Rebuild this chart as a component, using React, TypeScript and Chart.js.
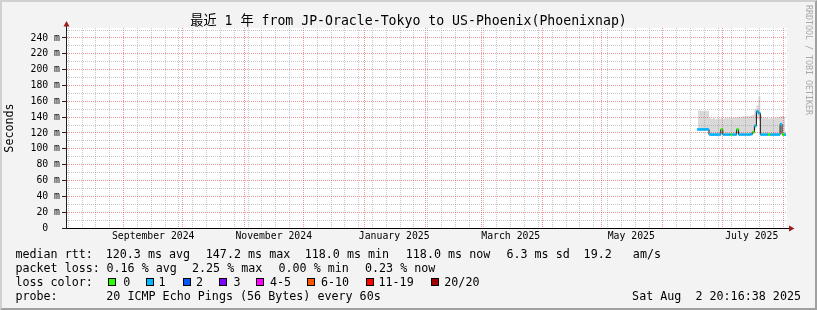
import React, { useEffect, useRef } from "react";
import { Chart, registerables } from "chart.js";

Chart.register(...registerables);

const MONO = "'DejaVu Sans Mono', 'Noto Sans CJK SC', monospace";

// ---------- texts ----------
const titleText = "最近 1 年 from JP-Oracle-Tokyo to US-Phoenix(Phoenixnap)";
const yAxisTitle = "Seconds";
const watermarkText = "RRDTOOL / TOBI OETIKER";

// ---------- time axis ----------
const startUtc = Date.UTC(2024, 7, 2, 20, 16, 38); // graph start (end = +365 days)
const spanDays = 365;
const xLabelTexts = ["September 2024", "November 2024", "January 2025", "March 2025", "May 2025", "July 2025"];
const xLabelDates = [[2024, 8, 16], [2024, 10, 16], [2025, 0, 16], [2025, 2, 16], [2025, 4, 16], [2025, 6, 16]];
const monthStarts = [
  [2024, 8, 1], [2024, 9, 1], [2024, 10, 1], [2024, 11, 1], [2025, 0, 1], [2025, 1, 1],
  [2025, 2, 1], [2025, 3, 1], [2025, 4, 1], [2025, 5, 1], [2025, 6, 1], [2025, 7, 1],
];
const firstWeekLine = [2024, 7, 4]; // Sundays

// ---------- value axis ----------
const yMax = 252.6;
const yGridValues = [0, 10, 20, 30, 40, 50, 60, 70, 80, 90, 100, 110, 120, 130, 140, 150, 160, 170, 180, 190, 200, 210, 220, 230, 240, 250];
const yLabelValues = [0, 20, 40, 60, 80, 100, 120, 140, 160, 180, 200, 220, 240];
const yLabelTexts = ["0  ", "20 m", "40 m", "60 m", "80 m", "100 m", "120 m", "140 m", "160 m", "180 m", "200 m", "220 m", "240 m"];

// ---------- series (x = days since graph start, values in ms) ----------
const sampleDay = [
  320, 321, 322, 323, 324, 325, 326, 327, 328, 329, 330, 331, 332, 333, 334,
  335, 336, 337, 338, 339, 340, 341, 342, 343, 344, 345, 346, 347, 348, 349,
  350, 351, 352, 353, 354, 355, 356, 357, 358, 359, 360, 361, 362, 363, 364,
];
const medianRtt = [
  124.5, 124.5, 124.5, 124.5, 124.5, 124.5, 118.2, 118.0, 118.0, 118.0, 118.0, 118.0, 124.5, 118.0, 118.0,
  118.0, 118.0, 118.0, 118.0, 118.0, 124.5, 118.0, 118.0, 118.0, 118.0, 118.0, 118.0, 118.5, 121.0, 129.0,
  147.2, 145.0, 118.0, 118.0, 118.0, 118.0, 118.0, 118.0, 118.0, 118.0, 118.0, 118.0, 131.0, 118.0, 118.0,
];
const lossClass = [
  1, 1, 1, 1, 1, 1, 1, 1, 1, 1, 1, 1, 0, 1, 1,
  1, 1, 0, 1, 1, 0, 1, 1, 1, 1, 1, 1, 1, 0, 1,
  1, 1, 1, 1, 1, 1, 0, 1, 1, 1, 1, 1, 1, 0, 1,
];
const smokeLow = [
  123.3, 123.3, 123.3, 123.3, 123.3, 123.3, 117.3, 117.3, 117.3, 117.3, 117.3, 117.3, 118.5, 117.3, 117.3,
  117.3, 117.3, 117.3, 117.3, 117.3, 118.5, 117.3, 117.3, 117.3, 117.3, 117.3, 117.3, 117.5, 119.0, 124.0,
  138.0, 136.0, 117.3, 117.3, 117.3, 117.3, 117.3, 117.3, 117.3, 117.3, 117.3, 117.3, 121.0, 117.3, 117.3,
];
const smokeHigh = [
  149, 148, 148, 147.5, 148, 148, 139, 138, 139, 137.5, 138.5, 138, 139, 138, 139,
  138.5, 139.5, 138.5, 139, 140, 139.5, 140.5, 140, 141, 140.5, 141.5, 141, 142, 143, 150,
  155, 166, 142, 139, 138.5, 139, 138, 139, 138.5, 139, 139.5, 140, 141, 141.5, 140,
];

// ---------- legend ----------
const lossLabels = ["0", "1", "2", "3", "4-5", "6-10", "11-19", "20/20"];
const lossColors = ["#26ff00", "#00b8ff", "#0059ff", "#7e00ff", "#ff00ff", "#ff5500", "#ff0000", "#a10000"];
const medianStats = ["120.3 ms avg", "147.2 ms max", "118.0 ms min", "118.0 ms now", "6.3 ms sd", "19.2   am/s"];
const lossStats = ["0.16 % avg", "2.25 % max", "0.00 % min", "0.23 % now"];
const probeText = "20 ICMP Echo Pings (56 Bytes) every 60s";
const dateText = "Sat Aug  2 20:16:38 2025";

// layout-only constants
const DAY = 86400000;
const BAND = 1.7; // half thickness of loss-coloured median band (ms)
const RED = "rgba(222,48,48,0.5)";
const GREY = "rgba(143,143,143,0.5)";
const CLEAR = "rgba(0,0,0,0)";

const medianStatX = [105.7, 205.8, 304.7, 405.8, 506.4, 583.6];
const lossStatX = [106.5, 192, 278.5, 365];
const squareX = [108, 146, 183, 219, 256, 307, 366, 431];
const squareLabelX = [123.2, 158.5, 196, 233.5, 270, 321, 378.5, 444.3];
const rowTop = [247, 261, 275, 289];

const rrdFrame = {
  id: "rrdFrame",
  beforeDraw(chart: any) {
    const { ctx, chartArea: a } = chart;
    ctx.save();
    ctx.fillStyle = "#ffffff";
    ctx.fillRect(a.left, a.top, a.right - a.left, a.bottom - a.top);
    ctx.restore();
  },
  afterDraw(chart: any) {
    const { ctx, chartArea: a } = chart;
    const ax = Math.round(a.left) + 0.5;
    const ay = Math.round(a.bottom) + 0.5;
    ctx.save();
    ctx.lineWidth = 1;
    ctx.strokeStyle = "#202020";
    ctx.beginPath();
    ctx.moveTo(ax, a.top);
    ctx.lineTo(ax, a.top - 3);
    ctx.stroke();
    ctx.strokeStyle = "#000000";
    ctx.beginPath();
    ctx.moveTo(a.right, ay);
    ctx.lineTo(a.right + 3, ay);
    ctx.stroke();
    ctx.fillStyle = "#9b1c1c";
    ctx.beginPath();
    ctx.moveTo(ax - 3, a.top - 1.5);
    ctx.lineTo(ax + 3, a.top - 1.5);
    ctx.lineTo(ax, a.top - 7);
    ctx.closePath();
    ctx.fill();
    ctx.beginPath();
    ctx.moveTo(a.right + 2, ay - 3);
    ctx.lineTo(a.right + 2, ay + 3);
    ctx.lineTo(a.right + 7.5, ay);
    ctx.closePath();
    ctx.fill();
    ctx.restore();
  },
};

export default function App() {
  const ref = useRef<HTMLCanvasElement>(null);

  useEffect(() => {
    const canvas = ref.current;
    if (!canvas) return;
    const dayOf = (y: number, m: number, d: number) => (Date.UTC(y, m, d) - startUtc) / DAY;
    const key = (v: number) => Math.round(v * 1000);
    const tickMap = new Map<number, any>();
    const endUtc = startUtc + spanDays * DAY;
    for (let t = Date.UTC(firstWeekLine[0], firstWeekLine[1], firstWeekLine[2]); t < endUtc; t += 7 * DAY) {
      const v = (t - startUtc) / DAY;
      tickMap.set(key(v), { value: v, kind: "week", text: "" });
    }
    monthStarts.forEach(([y, m, d]) => {
      const v = dayOf(y, m, d);
      tickMap.set(key(v), { value: v, kind: "month", text: "" });
    });
    xLabelDates.forEach(([y, m, d], i) => {
      const v = dayOf(y, m, d);
      const ex = tickMap.get(key(v));
      if (ex) ex.text = xLabelTexts[i];
      else tickMap.set(key(v), { value: v, kind: "label", text: xLabelTexts[i] });
    });
    const xTicks = Array.from(tickMap.values()).sort((a, b) => a.value - b.value);

    const chart = new Chart(canvas, {
      type: "line",
      data: {
        datasets: [
          {
            type: "line",
            label: "smoke-low",
            data: sampleDay.map((d, i) => ({ x: d, y: smokeLow[i] })),
            borderColor: CLEAR,
            borderWidth: 0,
            pointRadius: 0,
            fill: false,
            stepped: "middle",
            order: 4,
          },
          {
            type: "line",
            label: "smoke-high",
            data: sampleDay.map((d, i) => ({ x: d, y: smokeHigh[i] })),
            borderColor: CLEAR,
            borderWidth: 0,
            pointRadius: 0,
            fill: "-1",
            backgroundColor: "#d9d9d9",
            stepped: "middle",
            order: 3,
          },
          {
            type: "line",
            label: "median",
            data: sampleDay.map((d, i) => ({ x: d, y: medianRtt[i] })),
            borderColor: "#141414",
            borderWidth: 1,
            pointRadius: 0,
            fill: false,
            stepped: "middle",
            order: 2,
          },
          {
            type: "bar",
            label: "loss",
            data: sampleDay.map((d, i) => ({ x: d, y: [medianRtt[i] - BAND, medianRtt[i] + BAND] })),
            backgroundColor: lossClass.map((c) => lossColors[c]),
            borderWidth: 0,
            barPercentage: 1,
            categoryPercentage: 1,
            inflateAmount: 0,
            order: 1,
          },
        ] as any,
      },
      options: {
        animation: false,
        responsive: false,
        devicePixelRatio: 1,
        events: [],
        layout: { padding: { left: 0, top: 28, right: 30, bottom: 62 } },
        plugins: {
          legend: { display: false },
          tooltip: { enabled: false },
          title: { display: false },
        },
        scales: {
          x: {
            type: "linear",
            min: 0,
            max: spanDays,
            offset: false,
            afterBuildTicks: (scale: any) => {
              scale.ticks = xTicks.map((t) => ({ ...t }));
            },
            afterFit: (scale: any) => {
              scale.height = 20;
            },
            ticks: {
              autoSkip: false,
              maxRotation: 0,
              minRotation: 0,
              padding: 3,
              color: "#000000",
              font: { family: MONO, size: 9.8, lineHeight: 1.2 },
              callback: (_v: any, i: number, ticks: any[]) => (ticks[i] && ticks[i].text) || "",
            },
            grid: {
              offset: false,
              drawTicks: false,
              z: 1,
              lineWidth: 1,
              color: (ctx: any) => {
                const k = ctx.tick && ctx.tick.kind;
                return k === "month" ? RED : k === "week" ? GREY : CLEAR;
              },
            },
            border: { display: true, color: "#000000", width: 1, dash: [1, 1], z: 2 },
          },
          y: {
            type: "linear",
            min: 0,
            max: yMax,
            afterBuildTicks: (scale: any) => {
              scale.ticks = yGridValues.map((v) => ({ value: v }));
            },
            afterFit: (scale: any) => {
              scale.width = 66;
            },
            ticks: {
              autoSkip: false,
              padding: 2,
              color: "#000000",
              font: { family: MONO, size: 9.8, lineHeight: 1.2 },
              callback: (v: any) => {
                const i = yLabelValues.indexOf(Number(v));
                return i >= 0 ? yLabelTexts[i] : "";
              },
            },
            grid: {
              drawTicks: true,
              tickLength: 4,
              z: 1,
              lineWidth: 1,
              color: (ctx: any) => {
                const v = ctx.tick ? ctx.tick.value : -1;
                if (v === 0) return CLEAR;
                return v % 20 === 0 ? RED : GREY;
              },
              tickColor: (ctx: any) => {
                const v = ctx.tick ? ctx.tick.value : -1;
                return v % 20 === 0 ? "#202020" : CLEAR;
              },
            },
            border: { display: true, color: "#202020", width: 1, dash: [1, 1], z: 2 },
            title: {
              display: true,
              text: yAxisTitle,
              color: "#000000",
              font: { family: MONO, size: 11.7, lineHeight: 1.2 },
              padding: { top: 3, bottom: 0 },
            },
          },
        },
      } as any,
      plugins: [rrdFrame as any],
    });
    return () => chart.destroy();
  }, []);

  const legendBase: React.CSSProperties = {
    position: "absolute",
    fontFamily: MONO,
    fontSize: 11.7,
    lineHeight: "14px",
    whiteSpace: "pre",
    color: "#000000",
  };

  return (
    <div
      style={{
        position: "absolute",
        left: 0,
        top: 0,
        width: 817,
        height: 310,
        background: "#f3f3f3",
        overflow: "hidden",
      }}
    >
      <canvas
        ref={ref}
        width={817}
        height={310}
        style={{ position: "absolute", left: 0, top: 0, width: 817, height: 310 }}
      />
      <div
        style={{
          position: "absolute",
          left: 0,
          top: 13.4,
          width: 817,
          textAlign: "center",
          fontFamily: MONO,
          fontSize: 13.2,
          lineHeight: "16px",
          whiteSpace: "pre",
          color: "#000000",
        }}
      >
        {titleText}
      </div>
      <div
        style={{
          position: "absolute",
          left: 804,
          top: 4.5,
          width: 10,
          writingMode: "vertical-rl",
          fontFamily: MONO,
          fontSize: 8.3,
          lineHeight: "10px",
          whiteSpace: "pre",
          color: "#a8a8a8",
        }}
      >
        {watermarkText}
      </div>

      <span style={{ ...legendBase, left: 15.4, top: rowTop[0] }}>median rtt:</span>
      {medianStats.map((s, i) => (
        <span key={"m" + i} style={{ ...legendBase, left: medianStatX[i], top: rowTop[0] }}>
          {s}
        </span>
      ))}

      <span style={{ ...legendBase, left: 15.4, top: rowTop[1] }}>packet loss:</span>
      {lossStats.map((s, i) => (
        <span key={"l" + i} style={{ ...legendBase, left: lossStatX[i], top: rowTop[1] }}>
          {s}
        </span>
      ))}

      <span style={{ ...legendBase, left: 15.4, top: rowTop[2] }}>loss color:</span>
      {lossLabels.map((s, i) => (
        <React.Fragment key={"c" + i}>
          <div
            style={{
              position: "absolute",
              left: squareX[i],
              top: 278,
              width: 8,
              height: 8,
              boxSizing: "border-box",
              border: "1px solid #000000",
              background: lossColors[i],
            }}
          />
          <span style={{ ...legendBase, left: squareLabelX[i], top: rowTop[2] }}>{s}</span>
        </React.Fragment>
      ))}

      <span style={{ ...legendBase, left: 15.4, top: rowTop[3] }}>probe:</span>
      <span style={{ ...legendBase, left: 106.3, top: rowTop[3] }}>{probeText}</span>
      <span style={{ ...legendBase, right: 16, top: rowTop[3] }}>{dateText}</span>

      <div
        style={{
          position: "absolute",
          left: 0,
          top: 0,
          width: 817,
          height: 310,
          boxSizing: "border-box",
          borderStyle: "solid",
          borderWidth: 2,
          borderTopColor: "#d0d0d0",
          borderLeftColor: "#d0d0d0",
          borderRightColor: "#a0a0a0",
          borderBottomColor: "#a0a0a0",
          pointerEvents: "none",
        }}
      />
    </div>
  );
}
